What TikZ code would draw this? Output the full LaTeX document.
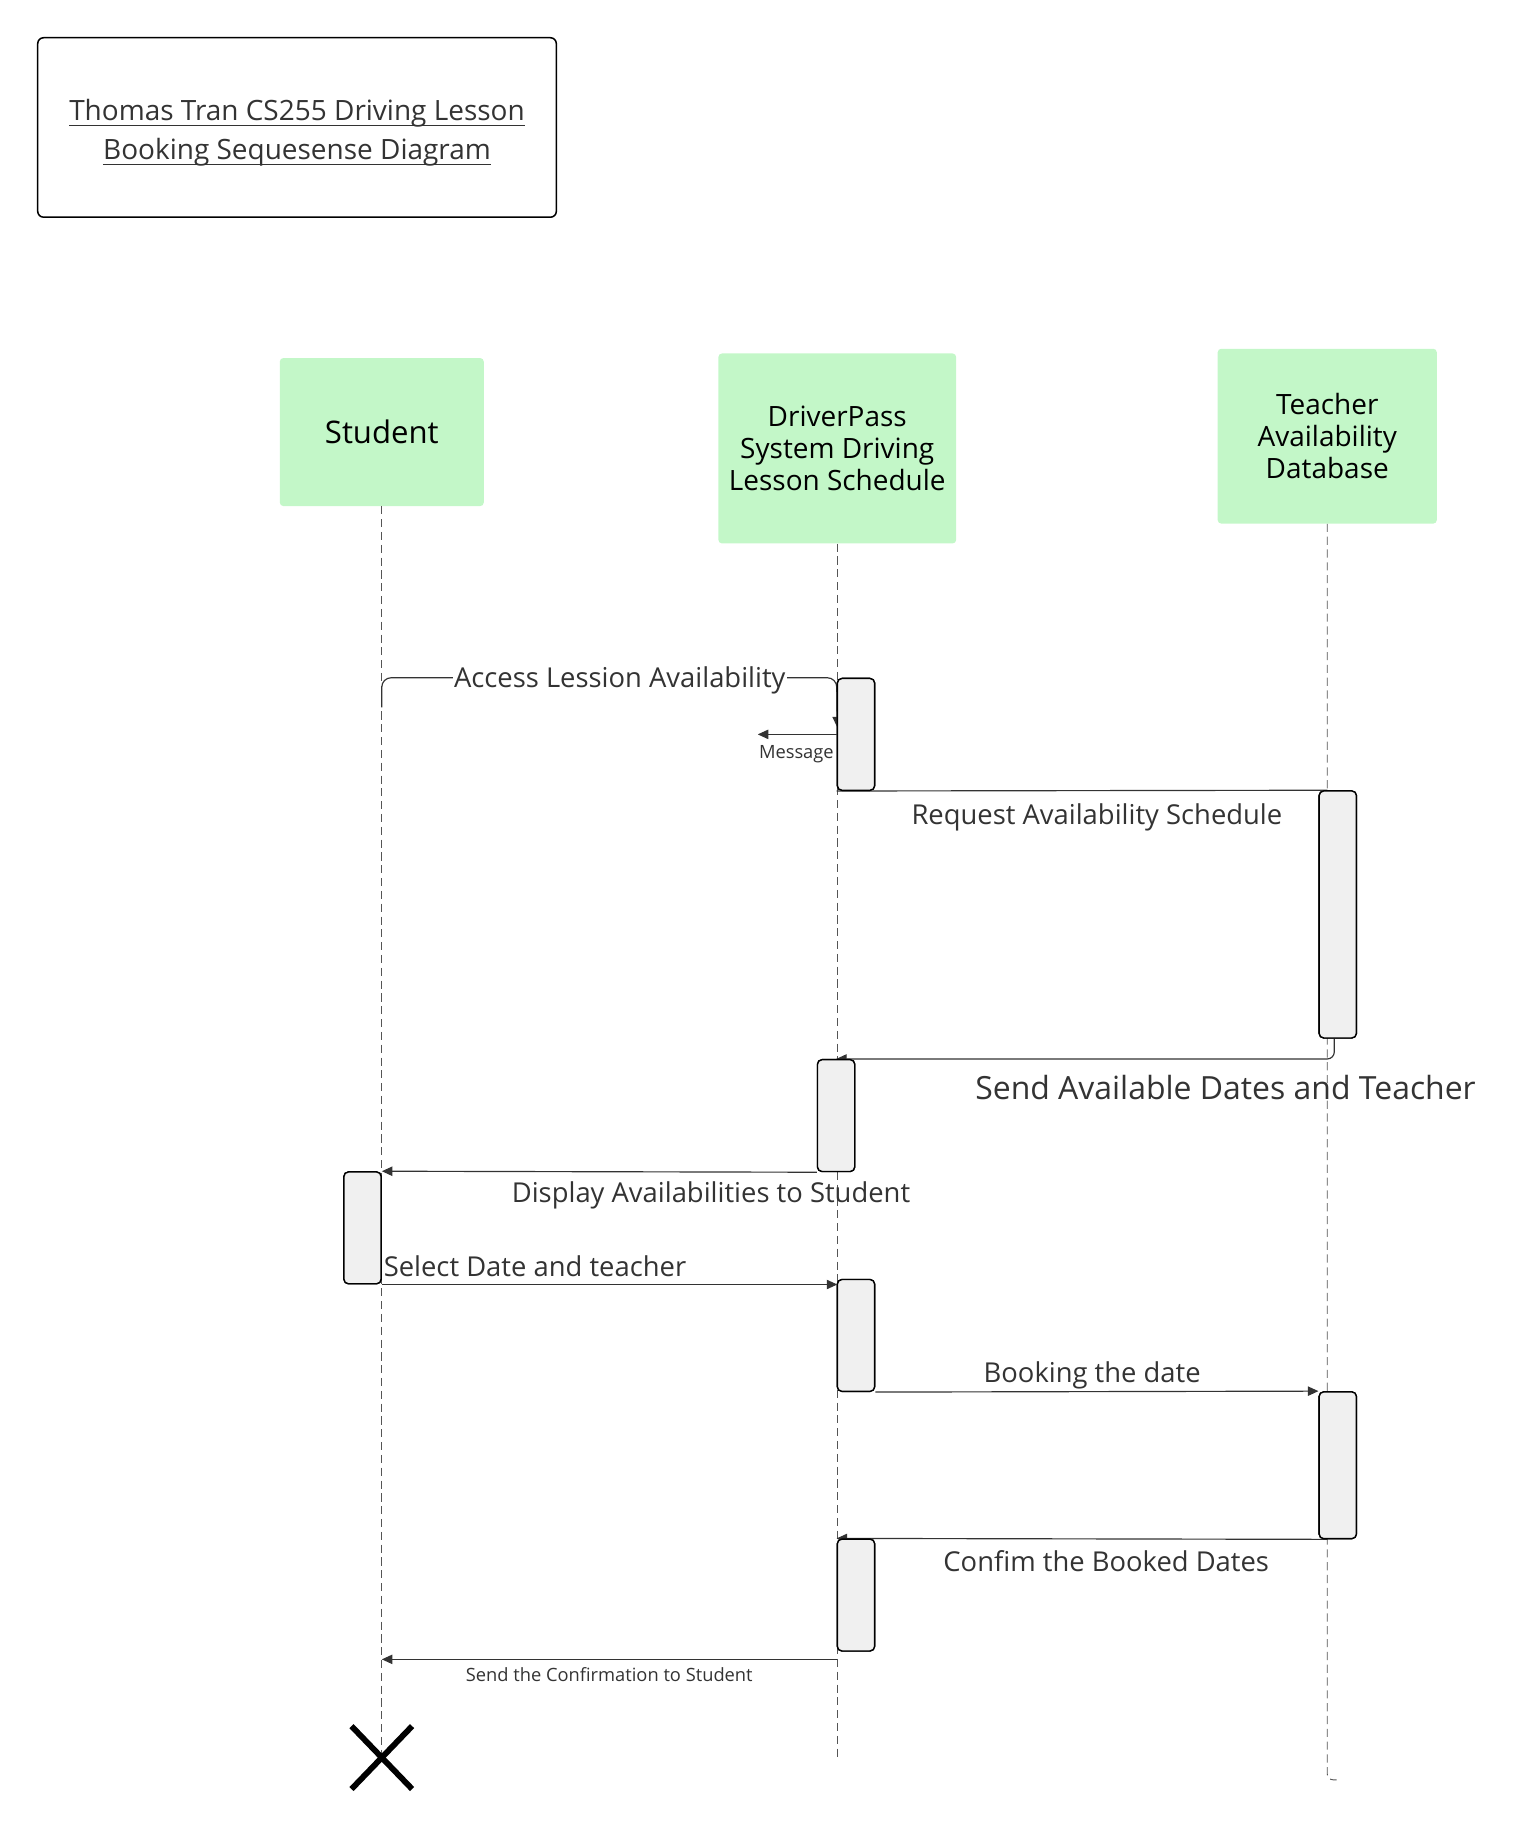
\documentclass[tikz,border=0pt]{standalone}
\usepackage{fontspec}
\setmainfont{Open Sans}
\usetikzlibrary{arrows.meta}
\definecolor{partgreen}{HTML}{C3F7C8}
\definecolor{actgray}{HTML}{F0F0F0}
\definecolor{ink}{HTML}{333333}
\definecolor{lifegray}{HTML}{555555}
\begin{document}
\begin{tikzpicture}[x=1.0035pt,y=-1.0035pt,
  part/.style={draw=none, fill=partgreen, rounded corners=3pt, align=center,
    font=\fontsize{24}{27.5}\selectfont, text=black, inner sep=0pt},
  act/.style={draw=black, line width=1.2pt, fill=actgray, rounded corners=4pt,
    minimum width=32pt, inner sep=0pt},
  life/.style={draw=lifegray, line width=0.8pt, dash pattern=on 7pt off 4pt},
  msg/.style={draw=ink, line width=1pt, -{Triangle[length=9pt,width=8pt]}},
  plainline/.style={draw=ink, line width=1pt},
  lbl/.style={text=ink, font=\fontsize{23.5}{28}\selectfont, inner sep=1pt},
  smalllbl/.style={text=ink, font=\fontsize{15.7}{19}\selectfont, inner sep=1pt},
  ttl/.style={text=ink, font=\fontsize{24}{28}\selectfont, inner sep=0pt},
  xmark/.style={draw=black, line width=5pt}
]
\useasboundingbox (0,0) rectangle (1295.5,1567.5);

% title
\node[draw=black, line width=1.3pt, rounded corners=5pt, minimum width=445pt, minimum height=154pt] (titlebox) at (254,109) {};
\node[ttl, anchor=base] (t1) at (254,103) {Thomas Tran CS255 Driving Lesson};
\node[ttl, anchor=base] (t2) at (254,136) {Booking Sequesense Diagram};
\draw[ink, line width=1pt] ([yshift=1.5pt]t1.south west) -- ([yshift=1.5pt]t1.south east);
\draw[ink, line width=1pt] ([yshift=1.5pt]t2.south west) -- ([yshift=1.5pt]t2.south east);

% participants
\node[part, minimum width=175pt, minimum height=127pt] (stu) at (326.5,369.5) {\fontsize{26.7}{30}\selectfont Student};
\node[part, minimum width=204pt, minimum height=163pt] (drv) at (716,383.5) {DriverPass\\System Driving\\Lesson Schedule};
\node[part, minimum width=188pt, minimum height=150pt] (tch) at (1135,373) {Teacher\\Availability\\Database};

% lifelines
\coordinate (stuEnd) at (326.5,1500);
\coordinate (drvEnd) at (716,1505);
\coordinate (tchBot) at (1135,1522);
\coordinate (tchEnd) at (1143,1522);
\draw[life] (stu.south) -- (stuEnd);
\draw[life] (drv.south) -- (drvEnd);
\draw[life, rounded corners=5pt] (tch.south) -- (tchBot) -- (tchEnd);

% activation boxes
\path node[act, minimum height=96pt] (a1) at (732,628) {}
      node[act, minimum height=212pt] (a2) at (1144,782) {}
      node[act, minimum height=96pt] (a3) at (715,954) {}
      node[act, minimum height=96pt] (a4) at (310,1050) {}
      node[act, minimum height=96pt] (a5) at (732,1142) {}
      node[act, minimum height=126pt] (a6) at (1144,1253) {}
      node[act, minimum height=96pt] (a7) at (732,1364) {};

% messages drawn behind the boxes
\coordinate (m1s) at (326.5,605);
\coordinate (m1e) at (716,622);
\draw[msg, rounded corners=8pt] (m1s) |- (a1.north west) -- (m1e);
\draw[plainline] (a1.south west) -- (a2.north -| tch.south);
\draw[msg, rounded corners=6pt] ([xshift=-3pt]a2.south) |- (a3.north);
\draw[msg] (a6.south -| tch.south) -- (a7.north west);

% activation boxes on top
\node[act, minimum height=96pt] at (a1) {};
\node[act, minimum height=212pt] at (a2) {};
\node[act, minimum height=96pt] at (a3) {};
\node[act, minimum height=96pt] at (a4) {};
\node[act, minimum height=96pt] at (a5) {};
\node[act, minimum height=126pt] at (a6) {};
\node[act, minimum height=96pt] at (a7) {};

% messages drawn over the boxes
\coordinate (m2e) at (648,628);
\draw[msg] (a1.west) -- (m2e);
\draw[msg] (a3.south west) -- (a4.north east);
\draw[msg] (a4.south east) -- (a4.south east -| drv.south);
\draw[msg] (a5.south east) -- (a6.north west);
\coordinate (m9s) at (716,1419);
\draw[msg] (m9s) -- (m9s -| a4.east);

% labels
\node[lbl, fill=white] (l1) at (530,582) {Access Lession Availability};
\node[smalllbl] (l2) at (681,645) {Message};
\node[lbl] (l3) at (938,699) {Request Availability Schedule};
\node[lbl, font=\fontsize{27.4}{32}\selectfont] (l4) at (1048,930) {Send Available Dates and Teacher};
\node[lbl] (l5) at (608,1022) {Display Availabilities to Student};
\node[lbl, anchor=west] (l6) at (327,1083) {Select Date and teacher};
\node[lbl] (l7) at (934,1176) {Booking the date};
\node[lbl] (l8) at (946,1335) {Confim the Booked Dates};
\node[smalllbl] (l9) at (521,1432) {Send the Confirmation to Student};

% destruction mark
\coordinate (xc) at (326.5,1503);
\draw[xmark] ([shift={(-26pt,27pt)}]xc) -- ([shift={(26pt,-27pt)}]xc);
\draw[xmark] ([shift={(26pt,27pt)}]xc) -- ([shift={(-26pt,-27pt)}]xc);
\end{tikzpicture}
\end{document}
